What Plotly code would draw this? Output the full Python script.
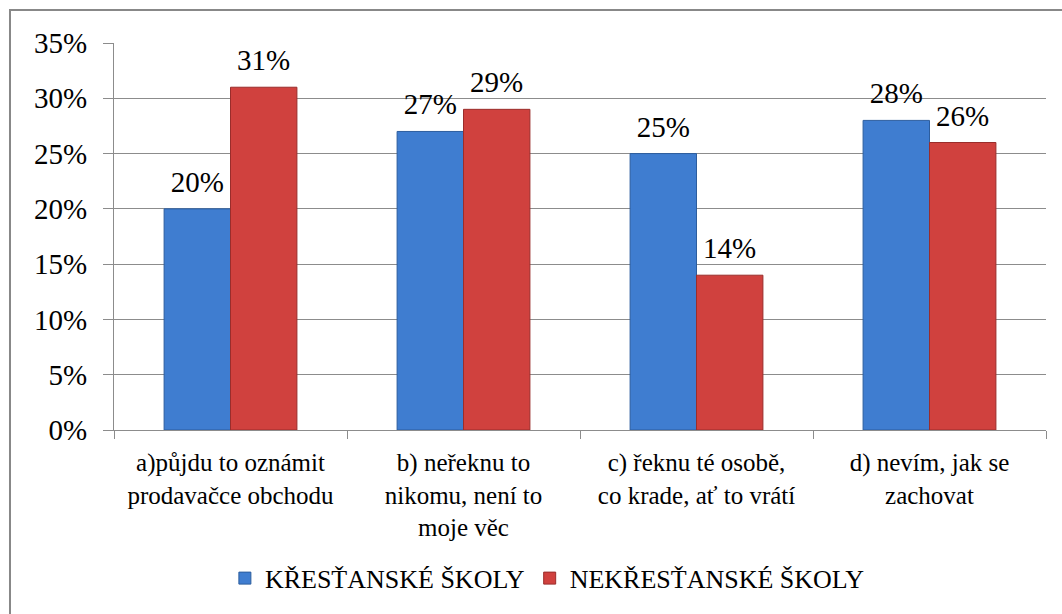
import plotly.graph_objects as go

categories = [
    "a)půjdu to oznámit<br>prodavačce obchodu",
    "b) neřeknu to<br>nikomu, není to<br>moje věc",
    "c) řeknu té osobě,<br>co krade, ať to vrátí",
    "d) nevím, jak se<br>zachovat",
]
krestanske = [20, 27, 25, 28]
nekrestanske = [31, 29, 14, 26]
series_names = ["KŘESŤANSKÉ ŠKOLY", "NEKŘESŤANSKÉ ŠKOLY"]
y_ticks = [0, 5, 10, 15, 20, 25, 30, 35]

FONT = "Liberation Serif, Times New Roman, serif"
colors = ["#3f7dd0", "#d0413e"]
edges = ["#2c5d9e", "#9a2d2b"]

fig = go.Figure()
for name, vals, c, e in zip(series_names, [krestanske, nekrestanske], colors, edges):
    fig.add_trace(go.Bar(
        x=categories, y=vals, name=name,
        marker=dict(color=c, line=dict(color=e, width=1)),
    ))
for name, vals in zip(series_names, [krestanske, nekrestanske]):
    fig.add_trace(go.Scatter(
        x=categories, y=vals, mode="markers+text", showlegend=False,
        marker=dict(size=14, opacity=0),
        text=[f"{v}%" for v in vals], textposition="top center",
        textfont=dict(family=FONT, size=29, color="#000000"),
        cliponaxis=False, hoverinfo="skip",
    ))

fig.update_layout(
    width=1062, height=614,
    margin=dict(l=114, r=16, t=43, b=182),
    paper_bgcolor="white", plot_bgcolor="white",
    barmode="group", bargap=0.43, bargroupgap=0,
    scattermode="group", scattergap=0.43,
    font=dict(family=FONT, color="#000000"),
    showlegend=True,
    legend=dict(
        orientation="h", x=0.465, xanchor="center", y=-0.383, yanchor="middle",
        font=dict(family=FONT, size=26), tracegroupgap=0,
    ),
    shapes=[dict(
        type="rect", xref="paper", yref="paper",
        x0=-0.1116, x1=1.03, y0=-0.49, y1=1.085,
        line=dict(color="#888888", width=2), fillcolor="rgba(0,0,0,0)", layer="below",
    )],
)
fig.update_yaxes(
    range=[0, 35], tickvals=y_ticks, ticktext=[f"{v}%" for v in y_ticks],
    showgrid=True, gridcolor="#8c8c8c", gridwidth=1,
    showline=True, linecolor="#8c8c8c", linewidth=1,
    ticks="outside", ticklen=10, tickcolor="#8c8c8c",
    tickfont=dict(family=FONT, size=29), zeroline=False,
    ticklabelstandoff=10,
)
fig.update_xaxes(
    showline=True, linecolor="#8c8c8c", linewidth=1,
    ticks="outside", ticklen=8, tickcolor="#8c8c8c", tickson="boundaries",
    tickfont=dict(family=FONT, size=25), ticklabelstandoff=10,
)

fig.write_html("out.html")
